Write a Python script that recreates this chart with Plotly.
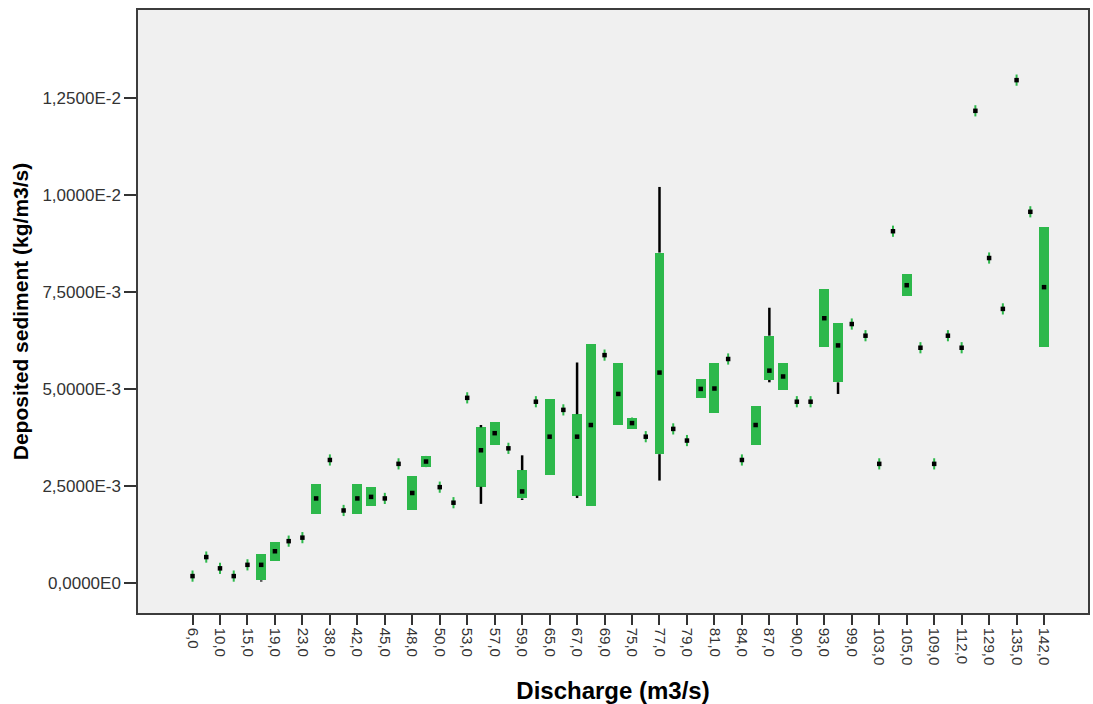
import numpy as np
import plotly.graph_objects as go

# Discharge categories (m3/s); only every other one is labelled on the axis
categories = ["6,0", "8,0", "10,0", "13,0", "15,0", "17,0", "19,0", "21,0", "23,0", "35,0",
              "38,0", "40,0", "42,0", "43,0", "45,0", "47,0", "48,0", "49,0", "50,0", "52,0",
              "53,0", "55,0", "57,0", "58,0", "59,0", "63,0", "65,0", "66,0", "67,0", "68,0",
              "69,0", "70,0", "75,0", "76,0", "77,0", "78,0", "79,0", "80,0", "81,0", "83,0",
              "84,0", "85,0", "87,0", "89,0", "90,0", "92,0", "93,0", "95,0", "99,0", "101,0",
              "103,0", "104,0", "105,0", "107,0", "109,0", "110,0", "112,0", "120,0", "129,0", "130,0",
              "135,0", "140,0", "142,0"]

# Deposited sediment, in units of 1e-3 kg/m3/s
q1_e3 = [0.19, 0.68, 0.39, 0.19, 0.48, 0.08, 0.59, 1.09, 1.18, 1.78,
         3.18, 1.88, 1.78, 2.00, 2.19, 3.08, 1.88, 2.99, 2.48, 2.08,
         4.78, 2.49, 3.57, 3.48, 2.19, 4.68, 2.80, 4.47, 2.26, 2.00,
         5.88, 4.08, 3.98, 3.78, 3.33, 3.98, 3.68, 4.77, 4.38, 5.78,
         3.18, 3.57, 5.24, 4.98, 4.68, 4.68, 6.09, 5.18, 6.68, 6.38,
         3.08, 9.07, 7.39, 6.07, 3.08, 6.38, 6.07, 12.17, 8.38, 7.07,
         12.96, 9.57, 6.09]
median_e3 = [0.19, 0.68, 0.39, 0.19, 0.48, 0.48, 0.83, 1.09, 1.18, 2.19,
             3.18, 1.88, 2.19, 2.23, 2.19, 3.08, 2.33, 3.14, 2.48, 2.08,
             4.78, 3.43, 3.87, 3.48, 2.37, 4.68, 3.78, 4.47, 3.78, 4.08,
             5.88, 4.88, 4.13, 3.78, 5.43, 3.98, 3.68, 5.01, 5.02, 5.78,
             3.18, 4.08, 5.48, 5.33, 4.68, 4.68, 6.83, 6.13, 6.68, 6.38,
             3.08, 9.07, 7.68, 6.07, 3.08, 6.38, 6.07, 12.17, 8.38, 7.07,
             12.96, 9.57, 7.63]
q3_e3 = [0.19, 0.68, 0.39, 0.19, 0.48, 0.77, 1.07, 1.09, 1.18, 2.57,
         3.18, 1.88, 2.57, 2.48, 2.19, 3.08, 2.78, 3.27, 2.48, 2.08,
         4.78, 4.02, 4.17, 3.48, 2.92, 4.68, 4.76, 4.47, 4.36, 6.16,
         5.88, 5.67, 4.27, 3.78, 8.52, 3.98, 3.68, 5.26, 5.67, 5.78,
         3.18, 4.58, 6.38, 5.67, 4.68, 4.68, 7.57, 6.71, 6.68, 6.38,
         3.08, 9.07, 7.97, 6.07, 3.08, 6.38, 6.07, 12.17, 8.38, 7.07,
         12.96, 9.57, 9.17]
whisker_lo_e3 = [0.19, 0.68, 0.39, 0.19, 0.48, 0.05, 0.59, 1.09, 1.18, 1.78,
                 3.18, 1.88, 1.78, 2.00, 2.19, 3.08, 1.88, 2.99, 2.48, 2.08,
                 4.78, 2.05, 3.57, 3.48, 2.15, 4.68, 2.80, 4.47, 2.20, 2.00,
                 5.88, 4.08, 3.98, 3.78, 2.65, 3.98, 3.68, 4.77, 4.38, 5.78,
                 3.18, 3.57, 5.18, 4.98, 4.68, 4.68, 6.09, 4.88, 6.68, 6.38,
                 3.08, 9.07, 7.39, 6.07, 3.08, 6.38, 6.07, 12.17, 8.38, 7.07,
                 12.96, 9.57, 6.09]
whisker_hi_e3 = [0.19, 0.68, 0.39, 0.19, 0.48, 0.77, 1.07, 1.09, 1.18, 2.57,
                 3.18, 1.88, 2.57, 2.48, 2.19, 3.08, 2.78, 3.27, 2.48, 2.08,
                 4.78, 4.08, 4.17, 3.48, 3.30, 4.68, 4.76, 4.47, 5.69, 6.16,
                 5.88, 5.67, 4.27, 3.78, 10.21, 3.98, 3.68, 5.26, 5.67, 5.78,
                 3.18, 4.58, 7.10, 5.67, 4.68, 4.68, 7.57, 6.71, 6.68, 6.38,
                 3.08, 9.07, 7.97, 6.07, 3.08, 6.38, 6.07, 12.17, 8.38, 7.07,
                 12.96, 9.57, 9.17]

ytick_vals_e3 = [0.0, 2.5, 5.0, 7.5, 10.0, 12.5]
ytick_text = ["0,0000E0", "2,5000E-3", "5,0000E-3", "7,5000E-3", "1,0000E-2", "1,2500E-2"]

scale = 1e-3
q1 = np.array(q1_e3) * scale
med = np.array(median_e3) * scale
q3 = np.array(q3_e3) * scale
wlo = np.array(whisker_lo_e3) * scale
whi = np.array(whisker_hi_e3) * scale

GREEN = "#2db84b"
fig = go.Figure()

# whiskers (black line segments outside the box)
wx, wy = [], []
for c, a, b, c1, c3 in zip(categories, wlo, whi, q1, q3):
    if b > c3 + 1e-12:
        wx += [c, c, None]
        wy += [c3, b, None]
    if a < c1 - 1e-12:
        wx += [c, c, None]
        wy += [a, c1, None]
fig.add_trace(go.Scatter(x=wx, y=wy, mode="lines", line=dict(color="black", width=2.5),
                         hoverinfo="skip", showlegend=False, connectgaps=False))

# boxes
fig.add_trace(go.Bar(x=categories, y=q3 - q1, base=q1, width=0.72,
                     marker=dict(color=GREEN, line=dict(width=0)), showlegend=False))

# green cross behind the median marker
fig.add_trace(go.Scatter(x=categories, y=med, mode="markers",
                         marker=dict(symbol="line-ns", size=8, line=dict(color=GREEN, width=2)),
                         showlegend=False, hoverinfo="skip"))
# median marker
fig.add_trace(go.Scatter(x=categories, y=med, mode="markers",
                         marker=dict(symbol="square", size=4.5, color="black"),
                         showlegend=False))

fig.update_layout(
    width=1093, height=704,
    margin=dict(l=138, r=3, t=10, b=91),
    paper_bgcolor="white", plot_bgcolor="#f0f0f0",
    font=dict(family="Liberation Sans, Arial, sans-serif", color="#333333"),
    bargap=0,
)
fig.update_xaxes(
    type="category", categoryorder="array", categoryarray=categories,
    range=[-3.97, 65.2],
    tickmode="array", tickvals=categories[::2], ticktext=categories[::2],
    tickangle=90, ticks="outside", ticklen=10, tickcolor="#333333", tickwidth=1.5,
    tickfont=dict(size=15, color="#333333"),
    showline=True, linecolor="#3c3c3c", linewidth=1.5, mirror=True,
    showgrid=False, zeroline=False,
    title=dict(text="<b>Discharge (m3/s)</b>", font=dict(size=24, color="black"), standoff=18),
)
fig.update_yaxes(
    range=[-0.00076, 0.014766],
    tickmode="array", tickvals=[v * scale for v in ytick_vals_e3], ticktext=ytick_text,
    ticks="outside", ticklen=12, tickcolor="#333333", tickwidth=1.5,
    tickfont=dict(size=17, color="#333333"),
    showline=True, linecolor="#3c3c3c", linewidth=1.5, mirror=True,
    showgrid=False, zeroline=False,
    title=dict(text="<b>Deposited sediment (kg/m3/s)</b>", font=dict(size=21, color="black"), standoff=8),
)

fig.write_html("out.html", config={"displayModeBar": False},
               post_script="document.body.style.margin='0px';document.body.style.overflow='hidden';")
